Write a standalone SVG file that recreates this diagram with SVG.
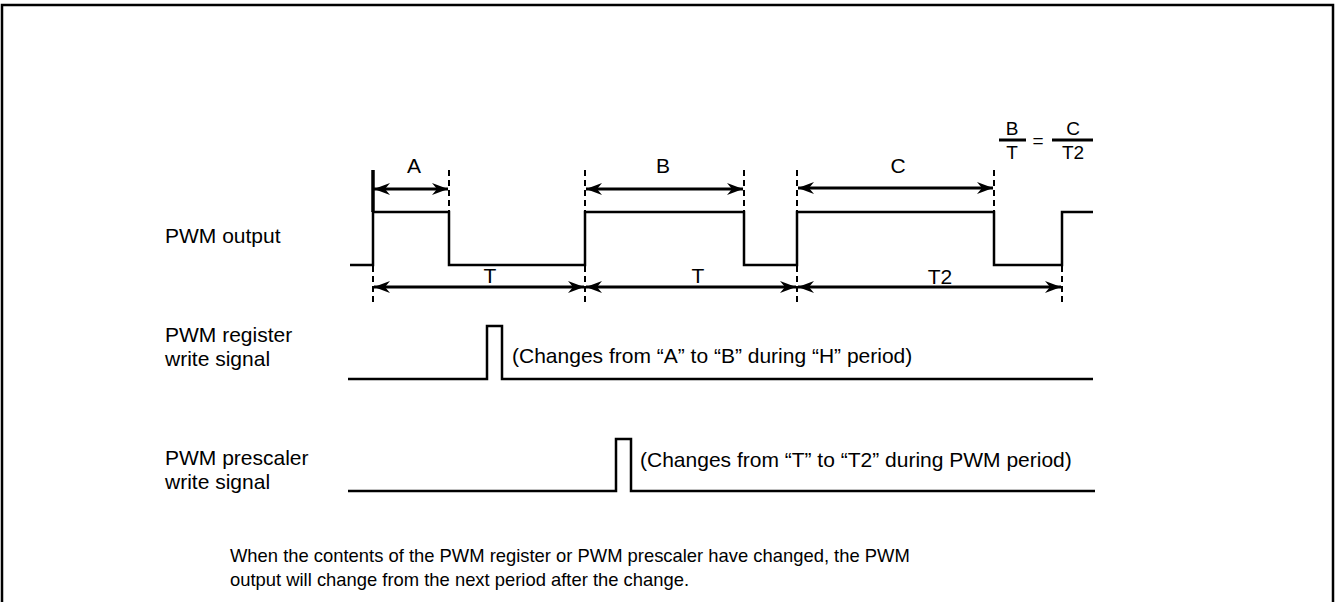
<svg xmlns="http://www.w3.org/2000/svg" width="1335" height="602" viewBox="0 0 1335 602">
<style>
text{font-family:"Liberation Sans",Arial,sans-serif;font-size:21px;fill:#000}
.w{fill:none;stroke:#000;stroke-width:2.5;stroke-linejoin:miter}
.d{stroke:#000;stroke-width:2;stroke-dasharray:6,4;fill:none}
.a{stroke:#000;stroke-width:3;fill:none;marker-start:url(#ah);marker-end:url(#ah)}
.c{text-anchor:middle}
.f{font-size:19px}
.n{font-size:18.4px}
</style>
<defs>
<marker id="ah" markerUnits="userSpaceOnUse" markerWidth="17" markerHeight="14" refX="16" refY="7" orient="auto-start-reverse" viewBox="0 0 17 14">
<path d="M0,1 L16,7 L0,13 L5,7 z" fill="#000"/>
</marker>
</defs>
<rect x="2" y="5" width="1331" height="640" fill="#fff" stroke="#000" stroke-width="2.5"/>
<g id="labels">
<text x="165" y="243">PWM output</text>
<text x="165" y="342">PWM register</text>
<text x="165" y="366">write signal</text>
<text x="165" y="465">PWM prescaler</text>
<text x="165" y="489">write signal</text>
</g>
<g id="pwm-output">
<path class="w" d="M350,265 H373 V212 H449 V265 H585 V212 H744 V265 H797 V212 H994 V265 H1062 V212 H1093"/>
<line x1="373" y1="170" x2="373" y2="212" stroke="#000" stroke-width="3.5"/>
</g>
<g id="guides">
<line class="d" x1="449" y1="170" x2="449" y2="212"/>
<line class="d" x1="585" y1="170" x2="585" y2="212"/>
<line class="d" x1="744" y1="170" x2="744" y2="212"/>
<line class="d" x1="797" y1="170" x2="797" y2="212"/>
<line class="d" x1="994" y1="170" x2="994" y2="212"/>
<line class="d" x1="373" y1="266" x2="373" y2="304"/>
<line class="d" x1="585" y1="266" x2="585" y2="304"/>
<line class="d" x1="797" y1="266" x2="797" y2="304"/>
<line class="d" x1="1062" y1="266" x2="1062" y2="304"/>
</g>
<g id="connectors">
<line class="a" x1="374" y1="189" x2="448" y2="189"/>
<line class="a" x1="586" y1="189" x2="743" y2="189"/>
<line class="a" x1="798" y1="188" x2="993" y2="188"/>
<line class="a" x1="374" y1="287" x2="584" y2="287"/>
<line class="a" x1="586" y1="287" x2="796" y2="287"/>
<line class="a" x1="798" y1="287" x2="1061" y2="287"/>
</g>
<g id="dim-labels">
<text class="c" x="414" y="173">A</text>
<text class="c" x="663" y="173">B</text>
<text class="c" x="898" y="173">C</text>
<text class="c" x="490" y="283">T</text>
<text class="c" x="698" y="283">T</text>
<text class="c" x="940" y="284">T2</text>
</g>
<g id="formula">
<text class="c f" x="1012" y="135">B</text>
<line x1="999" y1="140" x2="1026" y2="140" stroke="#000" stroke-width="3"/>
<text class="c f" x="1012" y="159">T</text>
<text class="c f" x="1038" y="147">=</text>
<text class="c f" x="1073" y="135">C</text>
<line x1="1052" y1="140" x2="1093" y2="140" stroke="#000" stroke-width="3"/>
<text class="c f" x="1073" y="159">T2</text>
</g>
<g id="register-signal">
<path class="w" d="M348,379 H487 V326 H502 V379 H1093"/>
<text x="512" y="363">(Changes from “A” to “B” during “H” period)</text>
</g>
<g id="prescaler-signal">
<path class="w" d="M348,491 H616 V439 H631 V491 H1095"/>
<text x="640" y="467">(Changes from “T” to “T2” during PWM period)</text>
</g>
<g id="note">
<text class="n" x="230" y="562">When the contents of the PWM register or PWM prescaler have changed, the PWM</text>
<text class="n" x="230" y="586">output will change from the next period after the change.</text>
</g>
</svg>
